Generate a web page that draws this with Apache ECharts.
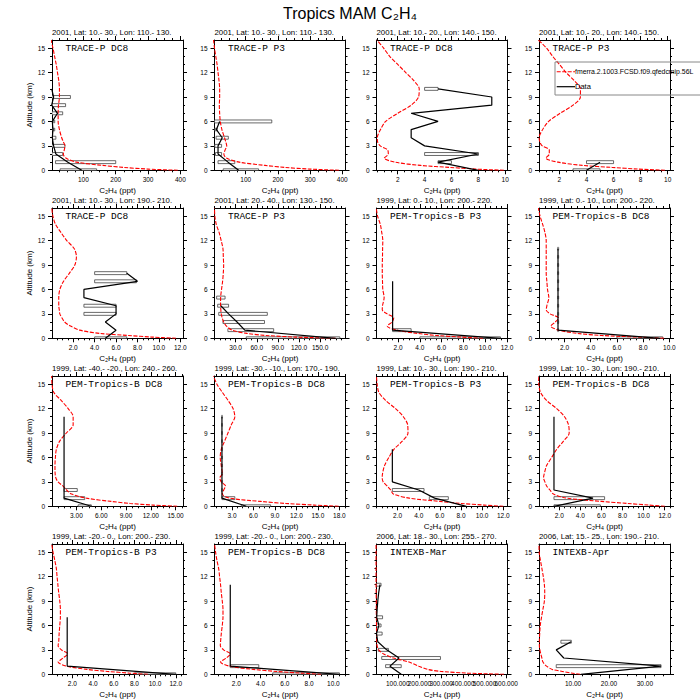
<!DOCTYPE html>
<html><head><meta charset="utf-8">
<script src="https://cdn.jsdelivr.net/npm/echarts@6/dist/echarts.min.js"></script>
<style>html,body{margin:0;padding:0;background:#fff}#c{width:700px;height:700px}</style>
</head><body><div id="c"></div>
<script>
// ---------- model altitude levels (km) ----------
const levels = [0, 0.15, 0.35, 0.6, 1, 1.5, 2, 2.5, 3, 3.5, 4, 5, 6, 7, 8, 9, 10, 11, 12, 13, 14, 15, 16];
// ---------- model C2H4 profiles (ppt) ----------
const model1  = [392, 300, 225, 160, 79, 46, 38, 41, 43, 38, 33, 26, 22, 22, 23, 26, 26, 24, 20, 16, 11, 6, 0];
const model2  = [390, 300, 222, 160, 80, 40, 32, 36, 41, 38, 34, 26, 21, 19, 18, 19, 19, 17, 14, 11, 7, 3, 0];
const model3  = [9.9, 7.8, 5.9, 3.7, 1.8, 1.0, 1.3, 1.25, 0.7, 0.5, 0.48, 0.72, 1.1, 2.0, 3.0, 3.55, 3.6, 3.2, 2.6, 2.0, 1.4, 0.95, 0.45];
const model4  = [9.8, 7.8, 5.9, 3.7, 1.9, 1.0, 1.25, 1.25, 0.73, 0.55, 0.5, 0.76, 1.2, 2.05, 3.0, 3.55, 3.55, 3.1, 2.5, 2.0, 1.5, 1.05, 0.45];
const model5  = [11.6, 9.4, 7.1, 4.5, 2.6, 1.75, 1.2, 0.95, 0.75, 0.7, 0.65, 0.65, 0.75, 1.1, 1.65, 2.15, 2.3, 2.1, 1.4, 0.85, 0.35, 0.1, 0.0];
const model6  = [172, 115, 73, 46, 25, 17, 13, 11, 9.5, 9, 8.6, 8.7, 10, 11.5, 12.5, 13, 12.5, 12, 9.5, 6.5, 2.5, 0.5, 0];
const model7  = [9.8, 7.8, 5.5, 3.8, 1.9, 1.0, 1.45, 1.6, 1.0, 0.55, 0.57, 0.72, 0.6, 0.57, 0.55, 0.55, 0.57, 0.58, 0.6, 0.5, 0.37, 0.12, 0];
const model8  = [9.6, 7.6, 4.8, 3.0, 1.55, 0.95, 1.3, 1.55, 0.9, 0.6, 0.65, 0.8, 0.7, 0.65, 0.6, 0.6, 0.6, 0.6, 0.6, 0.5, 0.33, 0.13, 0];
const model9  = [15.2, 12.3, 9.5, 7.2, 4.2, 2.4, 1.8, 1.35, 0.77, 0.5, 0.42, 0.4, 0.45, 0.57, 0.97, 1.78, 2.6, 2.6, 2.0, 1.15, 0.25, 0.04, 0];
const model10 = [17.9, 14.5, 10.5, 7.0, 2.7, 1.65, 1.85, 2.1, 1.5, 1.3, 1.65, 1.5, 1.36, 1.5, 1.97, 2.44, 2.9, 3.4, 3.15, 2.45, 1.65, 0.9, 0.4];
const model11 = [12.0, 10.2, 8.0, 6.0, 3.1, 1.6, 1.35, 1.0, 0.63, 0.54, 0.57, 0.76, 1.17, 1.65, 2.44, 2.98, 2.95, 2.54, 1.8, 0.86, 0.22, 0.06, 0];
const model12 = [12.0, 10.5, 8.5, 6.0, 2.7, 1.45, 1.12, 0.8, 0.64, 0.51, 0.58, 0.8, 1.28, 1.76, 2.4, 2.94, 2.88, 2.5, 1.76, 0.8, 0.22, 0.06, 0];
const model13 = [9.3, 7.5, 5.4, 3.4, 1.45, 0.62, 1.1, 1.55, 0.94, 0.62, 0.68, 0.72, 0.78, 0.84, 0.84, 0.78, 0.68, 0.6, 0.52, 0.45, 0.3, 0.13, 0];
const model14 = [9.0, 7.3, 5.3, 3.4, 1.45, 0.7, 1.17, 1.5, 0.95, 0.68, 0.7, 0.76, 0.84, 0.9, 0.9, 0.84, 0.76, 0.7, 0.62, 0.54, 0.4, 0.29, 0.2];
const model15 = [590, 420, 300, 238, 197, 152, 80, 35, 12, 5, 3, 2, 2, 1.5, 1, 1, 0.5, 0, 0, 0, 0, 0, 0];
const model16 = [12.0, 9.5, 7.0, 4.2, 2.6, 1.6, 1.3, 1.0, 0.75, 0.6, 0.6, 0.7, 0.85, 1.2, 1.6, 2.0, 2.1, 2.0, 1.7, 1.3, 0.9, 0.55, 0.5];

// ---------- observations: altitude, mean, box low, box high ----------
const obsAlt1 = [0, 1, 2, 3, 4, 5, 6, 7, 8, 9, 10];
const obs1 = [95, 52, 15, 8, 4, 6, 4, 20, 2, 8, 2];
const lo1 = [28, 14, 3, 3, 3, 3, 3, 3, 3, 3, null];
const hi1 = [141, 200, 36, 43, 15, 12, 12, 36, 45, 60, null];

const obsAlt2 = [0, 1, 2, 3, 4, 5, 6];
const obs2 = [78, 45, 14, 14, 27, 9, 19];
const lo2 = [30, 14, 6, 4, 8, 4, 3];
const hi2 = [140, 66, 25, 25, 46, 12, 181];

const obsAlt3 = [0, 1, 2, 3, 4, 5, 6, 7, 8, 9, 10];
const obs3 = [8, 5, 8, 4, 3, 3, 5, 3, 9, 9, 5];
const lo3 = [null, 5, 4, null, null, null, null, null, null, null, 4];
const hi3 = [null, 6, 8, null, null, null, null, null, null, null, 5];

const obsAlt4 = [0, 1];
const obs4 = [4, 5];
const lo4 = [3, 4];
const hi4 = [5, 6];

const obsAlt5 = [0, 1, 2, 3, 4, 5, 6, 7, 8];
const obs5 = [5, 6, 5, 6, 6, 3, 3, 8, 7];
const lo5 = [4, null, null, 3, 3, null, null, 4, 4];
const hi5 = [7, null, null, 6, 6, null, null, 7.9, 7];

const obsAlt6 = [0, 1, 2, 3, 4, 5];
const obs6 = [172, 43, 32, 20, 9, null];
const lo6 = [45, 19, 12, 6, 4.5, 3];
const hi6 = [178, 84, 71, 75, 20, 15];

const obsAlt7 = [0, 1, 2, 3, 4, 5, 6, 7];
const obs7 = [11.4, 1.5, 1.5, 1.5, 1.5, 1.5, 1.5, 1.5];
const lo7 = [4.0, 1.5, null, null, null, null, null, null];
const hi7 = [11.4, 3.2, null, null, null, null, null, null];

const obsAlt8 = [0, 1, 2, 3, 4, 5, 6, 7, 8, 9, 10, 11];
const obs8 = [9.3, 1.5, 1.5, 1.5, 1.5, 1.5, 1.5, 1.5, 1.5, 1.5, 1.5, 1.5];
const lo8 = [6.0, 1.46, 1.46, 1.46, 1.46, 1.46, 1.46, 1.46, 1.46, 1.46, 1.46, 1.46];
const hi8 = [9.5, 1.56, 1.56, 1.56, 1.56, 1.56, 1.56, 1.56, 1.56, 1.56, 1.56, 1.56];

const obsAlt9 = [0, 1, 2, 3, 4, 5, 6, 7, 8, 9, 10, 11];
const obs9 = [4.8, 1.5, 1.5, 1.5, 1.5, 1.5, 1.5, 1.5, 1.5, 1.5, 1.5, 1.5];
const lo9 = [3.2, 1.5, 1.5, null, null, null, null, null, null, null, null, null];
const hi9 = [4.8, 4.0, 3.1, null, null, null, null, null, null, null, null, null];

const obsAlt10 = [0, 1, 2, 3, 4, 5, 6, 7, 8, 9, 10, 11];
const obs10 = [5.0, 1.6, 1.6, 1.6, 1.6, 1.6, 1.6, 1.6, 1.6, 1.6, 1.6, 1.6];
const lo10 = [4.3, 1.6, 1.54, 1.54, 1.54, 1.54, 1.54, 1.54, 1.54, 1.54, 1.54, 1.54];
const hi10 = [8.4, 3.4, 1.68, 1.68, 1.68, 1.68, 1.68, 1.68, 1.68, 1.68, 1.68, 1.68];

const obsAlt11 = [0, 1, 2, 3, 4, 5, 6, 7];
const obs11 = [8.5, 5.5, 4.0, 1.5, 1.5, 1.5, 1.5, 1.5];
const lo11 = [null, 5.0, 1.5, null, null, null, null, null];
const hi11 = [null, 6.8, 4.5, null, null, null, null, null];

const obsAlt12 = [0, 1, 2, 3, 4, 5, 6, 7, 8, 9, 10, 11];
const obs12 = [1.5, 5.2, 1.5, 1.5, 1.5, 1.5, 1.5, 1.5, 1.5, 1.5, 1.5, 1.5];
const lo12 = [1.5, 1.5, null, null, null, null, null, null, null, null, null, null];
const hi12 = [5.9, 6.3, null, null, null, null, null, null, null, null, null, null];

const obsAlt13 = [0, 1, 2, 3, 4, 5, 6, 7];
const obs13 = [12.0, 1.5, 1.5, 1.5, 1.5, 1.5, 1.5, 1.5];
const lo13 = [8.0, null, null, null, null, null, null, null];
const hi13 = [12.0, null, null, null, null, null, null, null];

const obsAlt14 = [0, 1, 2, 3, 4, 5, 6, 7, 8, 9, 10, 11];
const obs14 = [10.5, 1.5, 1.5, 1.5, 1.5, 1.5, 1.5, 1.5, 1.5, 1.5, 1.5, 1.5];
const lo14 = [5.0, 1.5, null, null, null, null, null, null, null, null, null, null];
const hi14 = [10.5, 3.85, null, null, null, null, null, null, null, null, null, null];

const obsAlt15 = [0, 1, 2, 3, 4, 5, 6, 7, 8, 9, 10, 11];
const obs15 = [116, 64, 106, 49, 8, 2, 13, 3, 5, 8, 12, 18];
const lo15 = [null, 44, 26, 10, null, 2, 2, 2, null, null, null, 2];
const hi15 = [null, 116, 297, 57, null, 28, 23, 30, null, null, null, 23];

const obsAlt16 = [0, 1, 2, 3, 4];
const obs16 = [12.2, 34.5, 7.4, 5.3, 9.45];
const lo16 = [null, 5.3, null, null, 6.6];
const hi16 = [null, 34.5, null, null, 9.5];

// ---------- panel texts & axes ----------
const panelNames = ['TRACE-P DC8', 'TRACE-P P3', 'TRACE-P DC8', 'TRACE-P P3',
  'TRACE-P DC8', 'TRACE-P P3', 'PEM-Tropics-B P3', 'PEM-Tropics-B DC8',
  'PEM-Tropics-B DC8', 'PEM-Tropics-B DC8', 'PEM-Tropics-B P3', 'PEM-Tropics-B DC8',
  'PEM-Tropics-B P3', 'PEM-Tropics-B DC8', 'INTEXB-Mar', 'INTEXB-Apr'];
const panelInfo = ['2001, Lat: 10.- 30., Lon: 110.- 130.', '2001, Lat: 10.- 30., Lon: 110.- 130.',
  '2001, Lat: 10.- 20., Lon: 140.- 150.', '2001, Lat: 10.- 20., Lon: 140.- 150.',
  '2001, Lat: 10.- 30., Lon: 190.- 210.', '2001, Lat: 20.- 40., Lon: 130.- 150.',
  '1999, Lat: 0.- 10., Lon: 200.- 220.', '1999, Lat: 0.- 10., Lon: 200.- 220.',
  '1999, Lat: -40.- -20., Lon: 240.- 260.', '1999, Lat: -30.- -10., Lon: 170.- 190.',
  '1999, Lat: 10.- 30., Lon: 190.- 210.', '1999, Lat: 10.- 30., Lon: 190.- 210.',
  '1999, Lat: -20.- 0., Lon: 200.- 230.', '1999, Lat: -20.- 0., Lon: 200.- 230.',
  '2006, Lat: 18.- 30., Lon: 255.- 270.', '2006, Lat: 15.- 25., Lon: 190.- 210.'];
const xMin = [3, 3, 0.42, 0.49, 0.02, 0, 0.02, 0.05, 0.04, 0.56, 0, 0.08, 0.03, 0.2, 2, 0.5];
const xMax = [408, 410, 10.17, 10.17, 12.25, 186, 12.05, 10.05, 15.9, 18.85, 12.4, 12.5, 12.7, 11.0, 606, 37];
const xTicks1 = ['100', '200', '300', '400'];
const xTicks3 = ['2', '4', '6', '8', '10'];
const xTicks5 = ['2.0', '4.0', '6.0', '8.0', '10.0', '12.0'];
const xTicks6 = ['30.0', '60.0', '90.0', '120.0', '150.0'];
const xTicks8 = ['2.0', '4.0', '6.0', '8.0', '10.0'];
const xTicks9 = ['3.00', '6.00', '9.00', '12.00', '15.00'];
const xTicks10 = ['3.0', '6.0', '9.0', '12.0', '15.0', '18.0'];
const xTicks15 = ['100.000', '200.000', '300.000', '400.000', '500.000', '600.000'];
const xTicks16 = ['10.00', '20.00', '30.00'];
const yTicks = ['0', '3', '6', '9', '12', '15'];
const modelName = 'fmerra.2.1003.FCSD.f09.qfedcmip.56L';
const dataName = 'Data';

const models = [model1, model2, model3, model4, model5, model6, model7, model8, model9, model10, model11, model12, model13, model14, model15, model16];
const obsAlts = [obsAlt1, obsAlt2, obsAlt3, obsAlt4, obsAlt5, obsAlt6, obsAlt7, obsAlt8, obsAlt9, obsAlt10, obsAlt11, obsAlt12, obsAlt13, obsAlt14, obsAlt15, obsAlt16];
const obsVals = [obs1, obs2, obs3, obs4, obs5, obs6, obs7, obs8, obs9, obs10, obs11, obs12, obs13, obs14, obs15, obs16];
const boxLos = [lo1, lo2, lo3, lo4, lo5, lo6, lo7, lo8, lo9, lo10, lo11, lo12, lo13, lo14, lo15, lo16];
const boxHis = [hi1, hi2, hi3, hi4, hi5, hi6, hi7, hi8, hi9, hi10, hi11, hi12, hi13, hi14, hi15, hi16];
const xTickSets = [xTicks1, xTicks1, xTicks3, xTicks3, xTicks5, xTicks6, xTicks5, xTicks8,
  xTicks9, xTicks10, xTicks5, xTicks5, xTicks5, xTicks8, xTicks15, xTicks16];

// ---------- layout ----------
const colLeft = [52, 214.5, 376.5, 539];
const rowTop = [40, 208, 376, 544];
const W = 131, H = 130.3;
const SANS = '"Liberation Sans", Arial, Helvetica, sans-serif';
const MONO = '"Liberation Mono", "Courier New", monospace';

function fmtFor(vals, labels) {
  return function (v) {
    for (let i = 0; i < vals.length; i++) {
      if (Math.abs(vals[i] - v) < 1e-6 * Math.max(1, Math.abs(v))) return labels[i];
    }
    return '';
  };
}
function minorTicks(majors, lo, hi, n) {
  const step = majors[1] - majors[0];
  const ms = step / n;
  const out = [];
  let v = majors[0] - Math.floor((majors[0] - lo) / ms + 1e-9) * ms;
  for (let k = 0; v + k * ms <= hi + 1e-9; k++) {
    const t = +(v + k * ms).toFixed(6);
    if (!majors.some(m => Math.abs(m - t) < ms * 0.01)) out.push(t);
  }
  return out;
}

const grids = [], xAxes = [], yAxes = [], series = [], graphics = [];
const yMajor = yTicks.map(Number);
const yMinor = [1, 2, 4, 5, 7, 8, 10, 11, 13, 14];
const lineSt = { color: '#000', width: 1 };
const tickFont = { fontSize: 6.5, fontFamily: SANS, color: '#000', hideOverlap: false,
  showMinLabel: true, showMaxLabel: true, margin: 6 };

for (let p = 0; p < 16; p++) {
  const r = Math.floor(p / 4), c = p % 4;
  grids.push({ left: colLeft[c], top: rowTop[r], width: W, height: H });
  const labels = xTickSets[p];
  const majors = labels.map(Number);
  // labels split over two overlapping axes so touching labels are never dropped
  const evenVals = majors.filter((v, i) => i % 2 === 0);
  const oddVals = majors.filter((v, i) => i % 2 === 1);
  const minors = minorTicks(majors, xMin[p], xMax[p], 4);
  const xc = { gridIndex: p, type: 'value', min: xMin[p], max: xMax[p], splitLine: { show: false } };
  const xb = xAxes.length;
  xAxes.push(Object.assign({}, xc, {
    position: 'bottom',
    axisLine: { show: true, onZero: false, lineStyle: lineSt },
    axisTick: { show: true, length: 4, customValues: majors, lineStyle: lineSt },
    axisLabel: Object.assign({ show: true, customValues: evenVals, formatter: fmtFor(majors, labels) }, tickFont),
    name: 'C\u2082H\u2084 (ppt)', nameLocation: 'middle', nameGap: 16,
    nameTextStyle: { fontSize: 8, fontFamily: SANS, color: '#000' }
  }));
  xAxes.push(Object.assign({}, xc, {
    position: 'top',
    axisLine: { show: true, onZero: false, lineStyle: lineSt },
    axisTick: { show: true, length: 4, customValues: majors, lineStyle: lineSt },
    axisLabel: { show: false }
  }));
  xAxes.push(Object.assign({}, xc, {
    position: 'bottom', axisLine: { show: false, onZero: false },
    axisTick: { show: true, length: 2, customValues: minors, lineStyle: lineSt },
    axisLabel: Object.assign({ show: oddVals.length > 0, customValues: oddVals, formatter: fmtFor(majors, labels) }, tickFont)
  }));
  xAxes.push(Object.assign({}, xc, {
    position: 'top', axisLine: { show: false, onZero: false },
    axisTick: { show: true, length: 2, customValues: minors, lineStyle: lineSt },
    axisLabel: { show: false }
  }));

  const yc = { gridIndex: p, type: 'value', min: 0, max: 16, splitLine: { show: false } };
  const yb = yAxes.length;
  const yLeft = Object.assign({}, yc, {
    position: 'left',
    axisLine: { show: true, onZero: false, lineStyle: lineSt },
    axisTick: { show: true, length: 4, customValues: yMajor, lineStyle: lineSt },
    axisLabel: Object.assign({ show: true, customValues: yMajor, formatter: fmtFor(yMajor, yTicks) }, tickFont, { margin: 7 })
  });
  if (c === 0) {
    Object.assign(yLeft, { name: 'Altitude (km)', nameLocation: 'middle', nameGap: 18, nameRotate: 90,
      nameTextStyle: { fontSize: 8, fontFamily: SANS, color: '#000' } });
  }
  yAxes.push(yLeft);
  yAxes.push(Object.assign({}, yc, {
    position: 'right',
    axisLine: { show: true, onZero: false, lineStyle: lineSt },
    axisTick: { show: true, length: 4, customValues: yMajor, lineStyle: lineSt },
    axisLabel: { show: false }
  }));
  yAxes.push(Object.assign({}, yc, {
    position: 'left', axisLine: { show: false, onZero: false },
    axisTick: { show: true, length: 2, customValues: yMinor, lineStyle: lineSt },
    axisLabel: { show: false }
  }));
  yAxes.push(Object.assign({}, yc, {
    position: 'right', axisLine: { show: false, onZero: false },
    axisTick: { show: true, length: 2, customValues: yMinor, lineStyle: lineSt },
    axisLabel: { show: false }
  }));

  // boxes
  const boxData = [];
  obsAlts[p].forEach((a, i) => {
    if (boxLos[p][i] != null) boxData.push([boxLos[p][i], boxHis[p][i], a]);
  });
  series.push({
    type: 'custom', xAxisIndex: xb, yAxisIndex: yb, clip: true, z: 2,
    encode: { x: [0, 1], y: 2 },
    data: boxData,
    renderItem: function (params, api) {
      const a = api.value(2);
      const p1 = api.coord([api.value(0), a + 0.18]);
      const p2 = api.coord([api.value(1), a - 0.18]);
      const w = p2[0] - p1[0];
      const narrow = w < 3;
      return { type: 'rect',
        shape: { x: p1[0], y: p1[1], width: Math.max(w, 0.5), height: p2[1] - p1[1] },
        style: { fill: narrow ? '#888' : '#ffffff', stroke: narrow ? '#666' : '#444', lineWidth: narrow ? 0.5 : 0.8 } };
    }
  });
  // model profile
  series.push({
    type: 'line', name: modelName, xAxisIndex: xb, yAxisIndex: yb, z: 3,
    data: levels.map((a, i) => [models[p][i], a]),
    showSymbol: false, smooth: 0.3, clip: true,
    lineStyle: { color: '#ff0000', width: 1.1, type: [4, 1.5] }
  });
  // observed mean
  const obsData = [];
  obsAlts[p].forEach((a, i) => { if (obsVals[p][i] != null) obsData.push([obsVals[p][i], a]); });
  series.push({
    type: 'line', name: dataName, xAxisIndex: xb, yAxisIndex: yb, z: 4,
    data: obsData, showSymbol: false, clip: true,
    lineStyle: { color: '#000', width: 1.2 }
  });

  // subtitle and campaign label
  graphics.push({ type: 'text', x: colLeft[c], y: rowTop[r] - 7.7, z: 50,
    style: { text: panelInfo[p], fontSize: 7.8, fontFamily: SANS, fill: '#000',
      align: 'left', verticalAlign: 'middle', textAlign: 'left', textVerticalAlign: 'middle' } });
  graphics.push({ type: 'text', x: colLeft[c] + 13.5, y: rowTop[r] + 8.5, z: 50,
    style: { text: panelNames[p], fontSize: 9.5, fontFamily: MONO, fill: '#000',
      align: 'left', verticalAlign: 'middle', textAlign: 'left', textVerticalAlign: 'middle' } });
}

// main title
graphics.push({ type: 'text', x: 350, y: 13, z: 50,
  style: { text: 'Tropics MAM C\u2082H\u2084', fontSize: 16, fontFamily: SANS, fill: '#000',
    align: 'center', verticalAlign: 'middle', textAlign: 'center', textVerticalAlign: 'middle' } });
// legend (panel 4)
graphics.push({ type: 'rect', z: 60, shape: { x: 555, y: 62, width: 200, height: 33 },
  style: { fill: 'none', stroke: '#888', lineWidth: 1 } });
graphics.push({ type: 'line', z: 61, shape: { x1: 556.7, y1: 71.7, x2: 575, y2: 71.7 },
  style: { stroke: '#ff0000', lineWidth: 1.1, lineDash: [4, 1.5] } });
graphics.push({ type: 'line', z: 61, shape: { x1: 556.7, y1: 86.7, x2: 575, y2: 86.7 },
  style: { stroke: '#000', lineWidth: 1.2 } });
graphics.push({ type: 'text', x: 575, y: 71.7, z: 62,
  style: { text: modelName, fontSize: 6.9, fontFamily: SANS, fill: '#000',
    align: 'left', verticalAlign: 'middle', textAlign: 'left', textVerticalAlign: 'middle' } });
graphics.push({ type: 'text', x: 575, y: 86.7, z: 62,
  style: { text: dataName, fontSize: 7.5, fontFamily: SANS, fill: '#000',
    align: 'left', verticalAlign: 'middle', textAlign: 'left', textVerticalAlign: 'middle' } });

const chart = echarts.init(document.getElementById('c'), null, { renderer: 'svg', width: 700, height: 700 });
chart.setOption({
  backgroundColor: '#ffffff',
  animation: false,
  grid: grids,
  xAxis: xAxes,
  yAxis: yAxes,
  series: series,
  graphic: { elements: graphics }
});
</script>
</body></html>
